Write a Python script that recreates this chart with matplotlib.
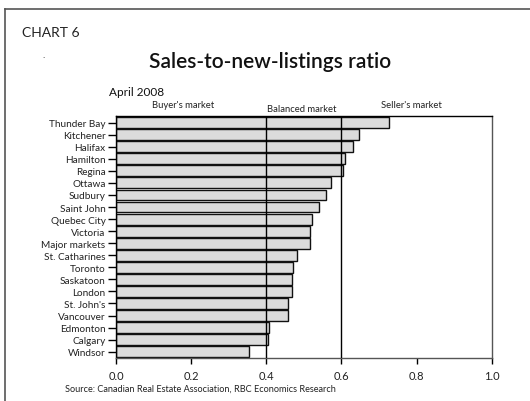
import matplotlib
matplotlib.use("Agg")
import matplotlib.pyplot as plt
from matplotlib.lines import Line2D

plt.rcParams['font.family'] = ['Lato', 'DejaVu Sans']

# data, top to bottom
cities = ["Thunder Bay", "Kitchener", "Halifax", "Hamilton", "Regina", "Ottawa",
          "Sudbury", "Saint John", "Quebec City", "Victoria", "Major markets",
          "St. Catharines", "Toronto", "Saskatoon", "London", "St. John's",
          "Vancouver", "Edmonton", "Calgary", "Windsor"]
ratios = [0.726, 0.646, 0.631, 0.609, 0.604, 0.571, 0.560, 0.540, 0.521, 0.517,
          0.516, 0.481, 0.470, 0.469, 0.469, 0.459, 0.457, 0.408, 0.404, 0.354]
thresholds = [0.4, 0.6]
xticks = [0.0, 0.2, 0.4, 0.6, 0.8, 1.0]

W, H = 530, 402
fig = plt.figure(figsize=(W / 100, H / 100), dpi=100)

# frame around the chart (top and left edges)
fig.add_artist(Line2D([5 / W, 1], [1 - 10 / H, 1 - 10 / H], color='#555555', lw=1.2))
fig.add_artist(Line2D([5 / W, 5 / W], [0, 1 - 10 / H], color='#555555', lw=1.2))

ax = fig.add_axes([116 / W, 1 - 359 / H, (491.7 - 116) / W, (359 - 117) / H])

ypos = list(range(len(cities)))
ax.barh(ypos, ratios, height=0.9, color='#dcdcdc', edgecolor='#111111', linewidth=1.0, zorder=2)
for t in thresholds:
    ax.axvline(t, color='black', lw=1.0, zorder=3)

ax.set_xlim(0, 1.0)
ax.set_ylim(len(cities) - 0.48, -0.55)
ax.set_yticks(ypos)
ax.set_yticklabels(cities, fontsize=7.2, color='#222222')
ax.set_xticks(xticks)
ax.set_xticklabels([f"{v:.1f}" for v in xticks], fontsize=8, color='#222222')
ax.tick_params(axis='y', length=6, width=1, pad=1.5)
ax.tick_params(axis='x', length=4, width=1, pad=5)

for side in ['top', 'left']:
    ax.spines[side].set_color('black')
    ax.spines[side].set_linewidth(1.0)
for side in ['right', 'bottom']:
    ax.spines[side].set_color('#555555')
    ax.spines[side].set_linewidth(1.0)

def ftext(x, y, s, **kw):
    fig.text(x / W, 1 - y / H, s, **kw)

ftext(22, 33, "CHART 6", fontsize=10, va='center', ha='left', color='#222222')
ftext(42, 55, ".", fontsize=7, va='center', ha='left', color='#222222')
ftext(270, 62, "Sales-to-new-listings ratio", fontsize=15, fontweight='semibold',
      va='center', ha='center', color='#111111')
ftext(109, 92, "April 2008", fontsize=8.5, va='center', ha='left', color='#111111')
ftext(183, 106, "Buyer's market", fontsize=6.8, va='center', ha='center', color='#222222')
ftext(302, 110, "Balanced market", fontsize=6.8, va='center', ha='center', color='#222222')
ftext(411, 106, "Seller's market", fontsize=6.8, va='center', ha='center', color='#222222')
ftext(200, 389, "Source: Canadian Real Estate Association, RBC Economics Research",
      fontsize=6.6, va='center', ha='center', color='#222222')

fig.savefig("out.png", dpi=100)
